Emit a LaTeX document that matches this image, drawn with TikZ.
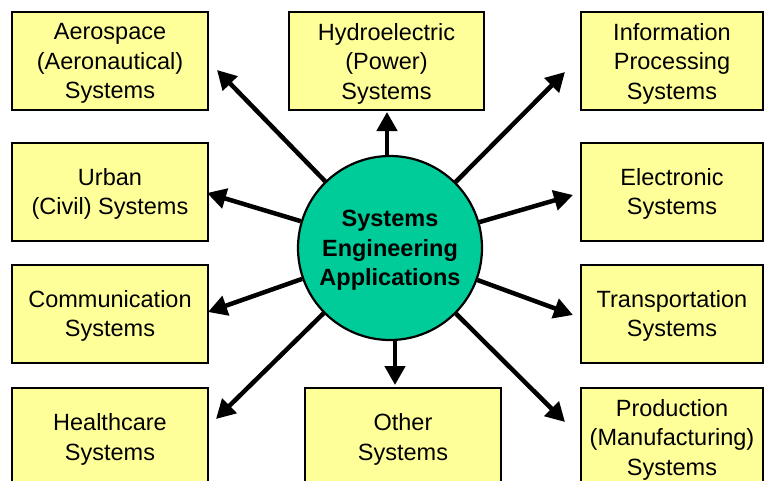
\documentclass[tikz,border=0pt]{standalone}
\usepackage{fontspec}
\setmainfont{Liberation Sans}
\usetikzlibrary{arrows.meta}
\definecolor{boxyellow}{RGB}{255,255,153}
\definecolor{hubgreen}{RGB}{0,204,153}

\begin{document}
\begin{tikzpicture}[x=1pt,y=-1pt,
    sysbox/.style={draw,line width=2pt,fill=boxyellow,minimum width=196pt,minimum height=98pt,
        inner sep=0pt,align=center,text depth=-2pt,font=\fontsize{23.5}{29.5}\selectfont},
    rbox/.style={sysbox,minimum width=182pt},
    hub/.style={circle,draw,line width=2.2pt,fill=hubgreen,minimum size=184pt,inner sep=0pt,
        align=center,text depth=-2pt,font=\fontsize{23.5}{29.5}\selectfont\bfseries},
    arr/.style={line width=4.5pt,-{Triangle[length=19pt,width=20pt]}}]
    \clip (0,0) rectangle (764,480);
    \node[sysbox] (aero)   at (110,61)    {Aerospace\\(Aeronautical)\\Systems};
    \node[sysbox,minimum width=195pt] (hydro) at (386.5,61) {Hydroelectric\\(Power)\\Systems};
    \node[rbox]   (info)   at (672,61)    {Information\\Processing\\Systems};
    \node[sysbox] (urban)  at (110,191.5) {Urban\\(Civil) Systems};
    \node[rbox]   (elec)   at (672,191.5) {Electronic\\Systems};
    \node[sysbox] (comm)   at (110,313.5) {Communication\\Systems};
    \node[rbox]   (trans)  at (672,313.5) {Transportation\\Systems};
    \node[sysbox] (health) at (110,437)   {Healthcare\\Systems};
    \node[sysbox] (other)  at (403,437)   {Other\\Systems};
    \node[rbox]   (prod)   at (672,437)   {Production\\(Manufacturing)\\Systems};
    \node[hub]    (se)     at (390,248)   {Systems\\Engineering\\Applications};

    \coordinate (tAero)   at (217,70);
    \coordinate (tHydro)  at (387,112);
    \coordinate (tInfo)   at (565,72);
    \coordinate (tUrban)  at (207,193);
    \coordinate (tElec)   at (573,195);
    \coordinate (tComm)   at (208,312);
    \coordinate (tTrans)  at (573,315);
    \coordinate (tHealth) at (216,419);
    \coordinate (tOther)  at (395,385);
    \coordinate (tProd)   at (565,422);

    \draw[arr] (se) -- (tAero);
    \draw[arr] (se.north -| tHydro) -- (tHydro);
    \draw[arr] (se) -- (tInfo);
    \draw[arr] (se) -- (tUrban);
    \draw[arr] (se) -- (tElec);
    \draw[arr] (se) -- (tComm);
    \draw[arr] (se) -- (tTrans);
    \draw[arr] (se) -- (tHealth);
    \draw[arr] (se.south -| tOther) -- (tOther);
    \draw[arr] (se) -- (tProd);
\end{tikzpicture}
\end{document}
